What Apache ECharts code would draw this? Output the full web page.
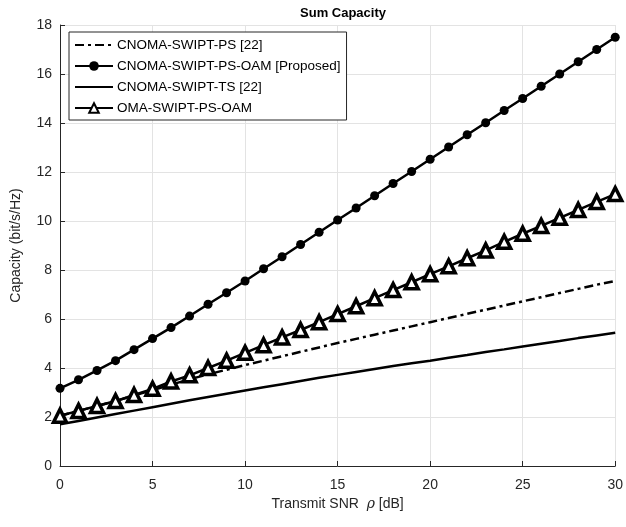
<!DOCTYPE html>
<html>
<head>
<meta charset="utf-8">
<script src="https://cdn.jsdelivr.net/npm/echarts@6/dist/echarts.min.js"></script>
<style>
  html, body { margin: 0; padding: 0; background: #fff; }
  #chart { width: 626px; height: 527px; }
</style>
</head>
<body>
<div id="chart"></div>
<script>
// Transmit SNR in dB (0..30 step 1)
const snrDb = [0,1,2,3,4,5,6,7,8,9,10,11,12,13,14,15,16,17,18,19,20,21,22,23,24,25,26,27,28,29,30];

// Sum capacity (bit/s/Hz) per scheme
const cnomaPs = [2.05,2.25,2.45,2.65,2.88,3.1,3.32,3.54,3.74,3.93,4.12,4.3,4.48,4.66,4.84,5.02,5.19,5.36,5.53,5.7,5.87,6.04,6.21,6.38,6.55,6.72,6.89,7.06,7.23,7.4,7.55];
const cnomaPsOam = [3.17,3.52,3.9,4.3,4.75,5.2,5.65,6.12,6.6,7.07,7.55,8.05,8.54,9.04,9.54,10.04,10.53,11.03,11.53,12.02,12.52,13.02,13.52,14.01,14.51,15.0,15.5,16.0,16.5,17.0,17.5];
const cnomaTs = [1.7,1.84,1.98,2.12,2.26,2.4,2.54,2.68,2.82,2.95,3.08,3.21,3.34,3.47,3.6,3.72,3.84,3.96,4.08,4.19,4.3,4.42,4.53,4.65,4.76,4.88,4.99,5.1,5.22,5.33,5.44];
const omaPsOam = [2.05,2.25,2.45,2.65,2.9,3.15,3.45,3.7,4.0,4.3,4.62,4.93,5.25,5.55,5.87,6.2,6.52,6.85,7.18,7.5,7.83,8.15,8.48,8.8,9.15,9.48,9.8,10.13,10.45,10.78,11.1];

const seriesNames = ['CNOMA-SWIPT-PS [22]', 'CNOMA-SWIPT-PS-OAM [Proposed]', 'CNOMA-SWIPT-TS [22]', 'OMA-SWIPT-PS-OAM'];
const xTicks = [0, 5, 10, 15, 20, 25, 30];
const yTicks = [0, 2, 4, 6, 8, 10, 12, 14, 16, 18];

const pairs = ys => snrDb.map((x, i) => [x, ys[i]]);
const FONT = 'Liberation Sans, Arial, sans-serif';
const INK = '#262626';
const DASH_DOT = [9, 4, 3, 4];

const chart = echarts.init(document.getElementById('chart'), null, { renderer: 'canvas' });

chart.setOption({
  animation: false,
  backgroundColor: '#ffffff',
  title: {
    text: 'Sum Capacity',
    left: 338, top: 2, textAlign: 'center',
    textStyle: { fontFamily: FONT, fontSize: 13, fontWeight: 'bold', color: '#000' }
  },
  grid: { left: 60, right: 9, top: 25, bottom: 61, containLabel: false },
  legend: {
    orient: 'vertical',
    left: 69, top: 32,
    data: [
      // line-only entries: hide the marker so just the stroke shows
      { name: seriesNames[0], itemStyle: { opacity: 0 } },
      { name: seriesNames[1] },
      { name: seriesNames[2], itemStyle: { opacity: 0 } },
      { name: seriesNames[3] }
    ],
    itemWidth: 38, itemHeight: 12, itemGap: 7,
    padding: [6, 6, 5, 5],
    borderColor: INK, borderWidth: 1, borderRadius: 0,
    backgroundColor: '#ffffff',
    textStyle: { fontFamily: FONT, fontSize: 13.5, color: '#000', padding: [0, 0, 0, -1] },
    selectedMode: false
  },
  xAxis: {
    type: 'value', min: 0, max: 30, interval: 5,
    name: 'Transmit SNR  {i|ρ} [dB]',
    nameLocation: 'middle', nameGap: 26,
    nameTextStyle: {
      fontFamily: FONT, fontSize: 14, color: INK,
      rich: { i: { fontFamily: 'DejaVu Serif, serif', fontStyle: 'italic', fontSize: 14, color: INK } }
    },
    axisLine: { show: true, lineStyle: { color: INK, width: 1 } },
    axisTick: { show: true, inside: true, length: 5, lineStyle: { color: INK } },
    axisLabel: { fontFamily: FONT, fontSize: 14, color: INK, margin: 12,
      formatter: v => xTicks.includes(v) ? String(v) : '' },
    splitLine: { show: true, lineStyle: { color: '#e3e3e3', width: 1 } }
  },
  yAxis: {
    type: 'value', min: 0, max: 18, interval: 2,
    name: 'Capacity (bit/s/Hz)',
    nameLocation: 'middle', nameGap: 37, nameRotate: 90,
    nameTextStyle: { fontFamily: FONT, fontSize: 14, color: INK },
    axisLine: { show: true, lineStyle: { color: INK, width: 1 } },
    axisTick: { show: true, inside: true, length: 5, lineStyle: { color: INK } },
    axisLabel: { fontFamily: FONT, fontSize: 14, color: INK, margin: 8,
      formatter: v => yTicks.includes(v) ? String(v) : '' },
    splitLine: { show: true, lineStyle: { color: '#e3e3e3', width: 1 } }
  },
  series: [
    {
      name: seriesNames[0], type: 'line', data: pairs(cnomaPs),
      showSymbol: false, symbol: 'none',
      lineStyle: { color: '#000', width: 2.5, type: DASH_DOT },
      itemStyle: { color: '#000' }, z: 2
    },
    {
      name: seriesNames[1], type: 'line', data: pairs(cnomaPsOam),
      symbol: 'circle', symbolSize: 9,
      lineStyle: { color: '#000', width: 2.5 },
      itemStyle: { color: '#000', borderColor: '#000', borderWidth: 0 }, z: 3
    },
    {
      name: seriesNames[2], type: 'line', data: pairs(cnomaTs),
      showSymbol: false, symbol: 'none',
      lineStyle: { color: '#000', width: 2.5 },
      itemStyle: { color: '#000' }, z: 2
    },
    {
      name: seriesNames[3], type: 'line', data: pairs(omaPsOam),
      symbol: 'triangle', symbolSize: 13,
      lineStyle: { color: '#000', width: 2.5 },
      itemStyle: { color: '#ffffff', borderColor: '#000', borderWidth: 3.5 }, z: 4
    }
  ]
});
</script>
</body>
</html>
